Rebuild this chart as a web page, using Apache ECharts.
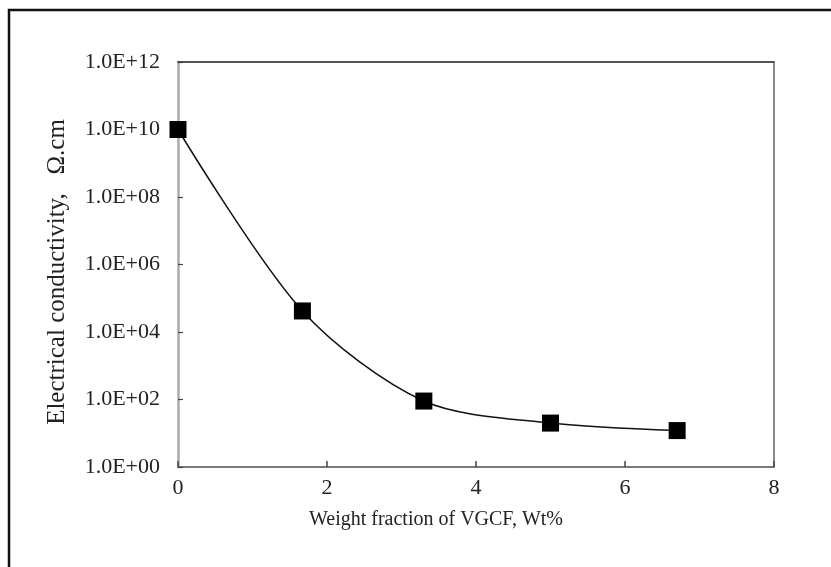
<!DOCTYPE html>
<html>
<head>
<meta charset="utf-8">
<script src="https://cdn.jsdelivr.net/npm/echarts@6/dist/echarts.min.js"></script>
<style>
  html, body { margin: 0; padding: 0; background: #fff; }
  #chart { width: 831px; height: 567px; }
</style>
</head>
<body>
<div id="chart"></div>
<script>
// Weight fraction of VGCF (wt%) and measured resistivity (Ω·cm)
const weightFraction = [0, 1.67, 3.3, 5.0, 6.7];
const resistivity = [1e10, 4.2e4, 90, 20, 12];
const xTicks = [0, 2, 4, 6, 8];
const yTickExponents = [0, 2, 4, 6, 8, 10, 12];
const xTitle = 'Weight fraction of VGCF, Wt%';
const yTitle = 'Electrical conductivity,   Ω.cm';

const FONT = '"Liberation Serif", "Times New Roman", serif';

function sciLabel(v) {
  const e = Math.round(Math.log10(v));
  return '1.0E+' + String(e).padStart(2, '0');
}

const chart = echarts.init(document.getElementById('chart'), null, { renderer: 'canvas' });

const points = weightFraction.map((x, i) => [x, resistivity[i]]);

chart.setOption({
  animation: false,
  backgroundColor: '#ffffff',
  grid: { left: 178, top: 62, right: 57, bottom: 100, containLabel: false },
  graphic: [{
    // frame around the whole figure
    type: 'rect',
    shape: { x: 9, y: 10, width: 840, height: 580 },
    style: { fill: 'none', stroke: '#111', lineWidth: 2.5 },
    silent: true
  }, {
    type: 'text',
    x: 436, y: 520,
    style: {
      text: xTitle, font: '20px ' + FONT, fill: '#222',
      textAlign: 'center', textVerticalAlign: 'middle'
    },
    silent: true
  }, {
    type: 'text',
    x: 57, y: 272,
    rotation: Math.PI / 2,
    style: {
      text: yTitle, font: '25px ' + FONT, fill: '#222',
      textAlign: 'center', textVerticalAlign: 'middle'
    },
    silent: true
  }],
  xAxis: [{
    type: 'value',
    min: xTicks[0],
    max: xTicks[xTicks.length - 1],
    interval: 2,
    position: 'bottom',
    axisLine: { show: true, lineStyle: { color: '#7a7a7a', width: 2 } },
    axisTick: { show: true, inside: true, length: 6, lineStyle: { color: '#444', width: 1.5 } },
    axisLabel: { fontFamily: FONT, fontSize: 22, color: '#222', margin: 10 },
    splitLine: { show: false }
  }, {
    type: 'value',
    min: 0, max: 8,
    position: 'top',
    axisLine: { show: true, onZero: false, lineStyle: { color: '#555', width: 2 } },
    axisTick: { show: false },
    axisLabel: { show: false },
    splitLine: { show: false }
  }],
  yAxis: [{
    type: 'log',
    logBase: 10,
    min: Math.pow(10, yTickExponents[0]),
    max: Math.pow(10, yTickExponents[yTickExponents.length - 1]),
    interval: 2,
    position: 'left',
    axisLine: { show: true, lineStyle: { color: '#aaaaaa', width: 2.5 } },
    axisTick: { show: true, inside: true, length: 5, lineStyle: { color: '#444', width: 1.2 } },
    axisLabel: { fontFamily: FONT, fontSize: 22, color: '#222', margin: 18, formatter: sciLabel },
    minorTick: { show: false },
    splitLine: { show: false }
  }, {
    type: 'log',
    logBase: 10,
    min: 1, max: 1e12,
    position: 'right',
    axisLine: { show: true, onZero: false, lineStyle: { color: '#8a8a8a', width: 2 } },
    axisTick: { show: false },
    axisLabel: { show: false },
    splitLine: { show: false }
  }],
  series: [{
    type: 'line',
    xAxisIndex: 0,
    yAxisIndex: 0,
    data: points,
    smooth: 0.3,
    symbol: 'rect',
    symbolSize: 17,
    itemStyle: { color: '#000' },
    lineStyle: { color: '#111', width: 1.5 },
    z: 3
  }]
});
</script>
</body>
</html>
